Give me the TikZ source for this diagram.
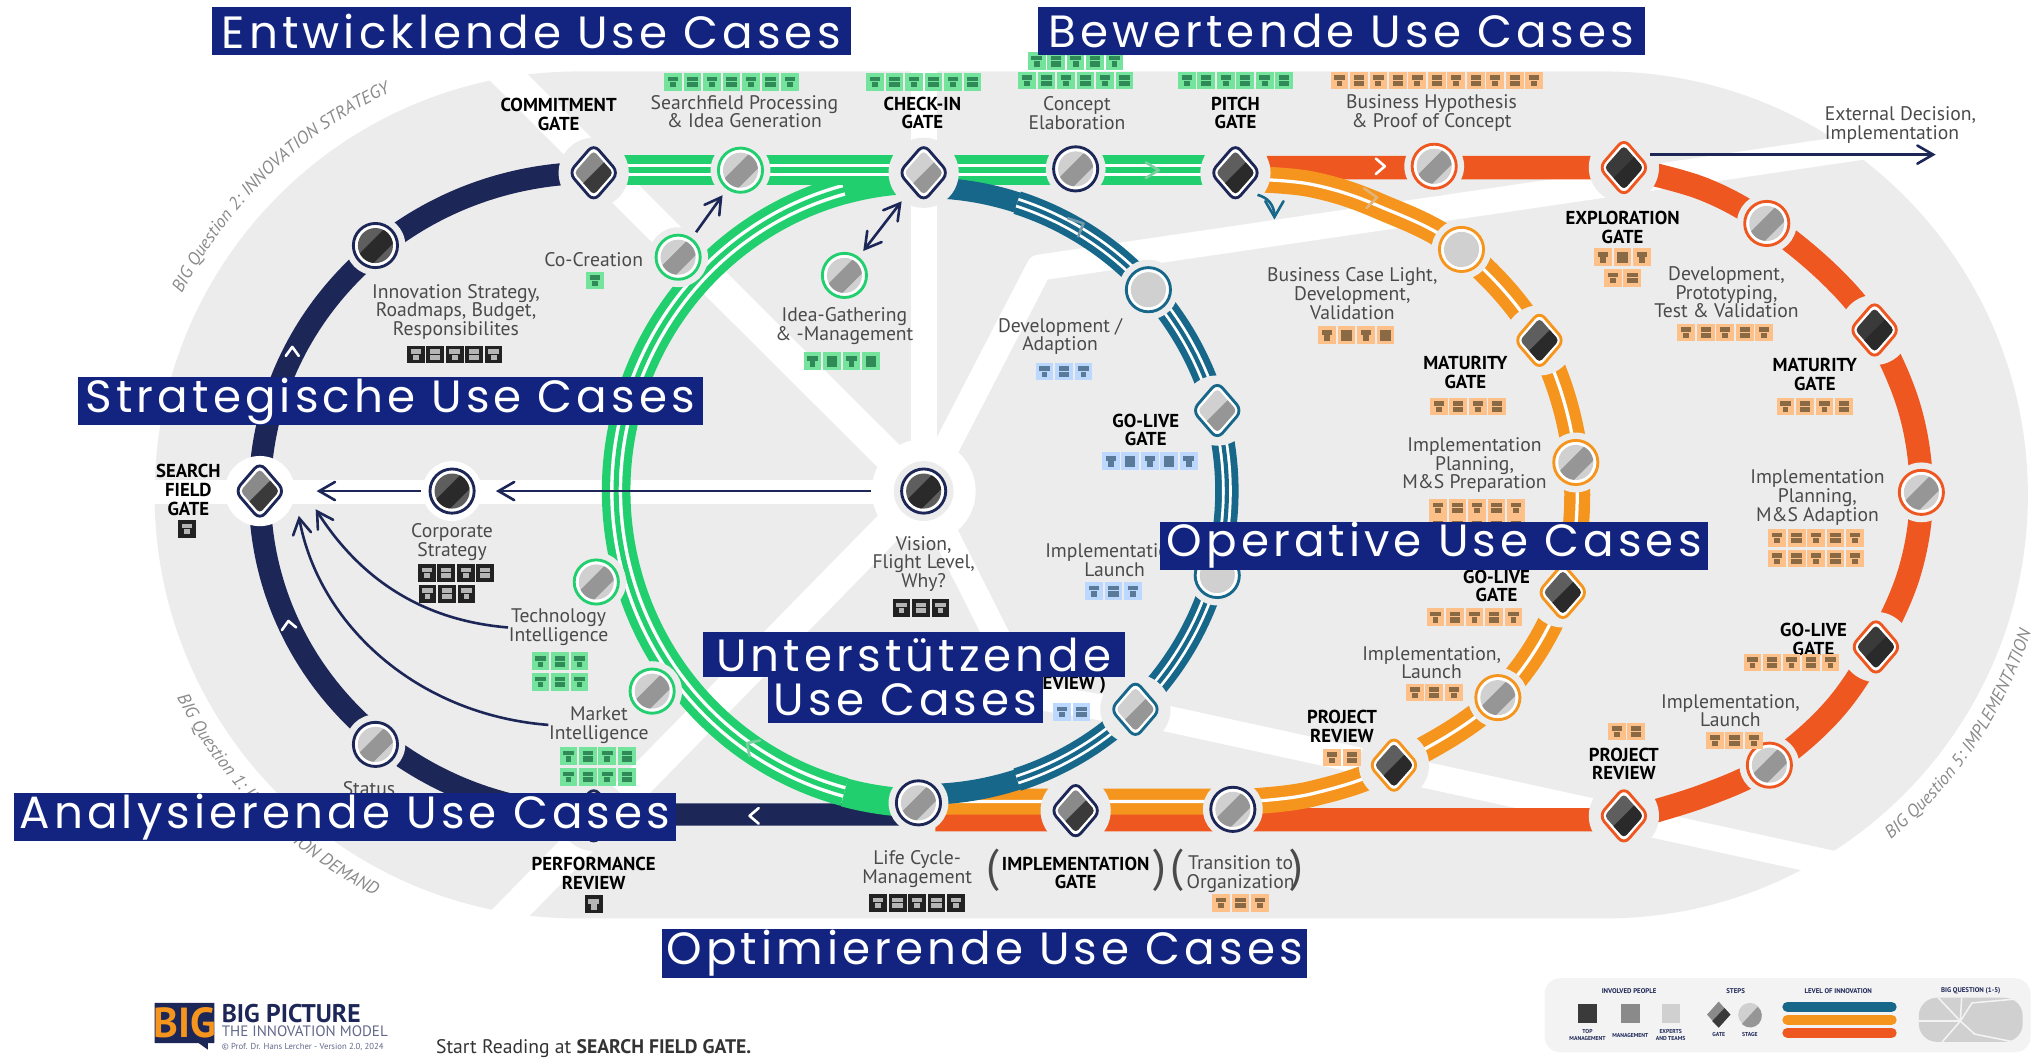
\documentclass[tikz,border=0pt]{standalone}
\usepackage{fontspec}
\usepackage{xcolor}
\usepackage{tikz}
\usetikzlibrary{arrows, decorations.text}

\setmainfont{PT Sans}
\newfontfamily\bannerfont[LetterSpace=9]{Poppins}

\definecolor{flaeche}{HTML}{ECECEC}
\definecolor{navyline}{HTML}{1D2757}
\definecolor{greenline}{HTML}{22CF6E}
\definecolor{tealline}{HTML}{17678A}
\definecolor{orangeline}{HTML}{F5951D}
\definecolor{redline}{HTML}{EE5720}
\definecolor{bannerblue}{HTML}{12247F}
\definecolor{labelgray}{HTML}{4A4A4A}
\definecolor{toneA}{HTML}{D0D0D0}
\definecolor{toneB}{HTML}{969696}
\definecolor{toneC}{HTML}{8A8A8A}
\definecolor{toneD}{HTML}{3A3A3A}
\definecolor{toneE}{HTML}{5E5E5E}
\definecolor{toneF}{HTML}{2A2A2A}
\definecolor{tilegreen}{HTML}{74E39C}
\definecolor{inkgreen}{HTML}{2F8A58}
\definecolor{tileorange}{HTML}{FDC089}
\definecolor{inkorange}{HTML}{8A6A45}
\definecolor{tileblue}{HTML}{BCD8FF}
\definecolor{inkblue}{HTML}{5A7A9A}
\definecolor{tileblack}{HTML}{222222}
\definecolor{inkblack}{HTML}{B5B5B5}

\tikzset{
	stagehalo/.style={circle, fill=flaeche, minimum size=0.46cm, inner sep=0pt},
	gatehalo/.style={circle, fill=flaeche, minimum size=0.54cm, inner sep=0pt},
	steplabel/.style={text=labelgray, align=center, inner sep=0pt,
		font=\fontsize{4.3}{4.1}\selectfont},
	gatelabel/.style={text=black, align=center, inner sep=0pt,
		font=\fontsize{4.1}{4.1}\selectfont\bfseries},
	flowline/.style={color=navyline, line width=0.02cm, >=angle 60},
	chevron/.style={color=white, line width=0.02cm, line cap=round, line join=round},
	banner/.style={fill=bannerblue, text=white, inner sep=0pt,
		minimum height=0.37cm, font=\bannerfont\fontsize{9.9}{10}\selectfont},
	legendtext/.style={text=navyline, align=center, inner sep=0pt,
		font=\fontsize{1.5}{1.7}\selectfont\bfseries},
	legendsmall/.style={text=navyline, align=center, inner sep=0pt,
		font=\fontsize{1.25}{1.5}\selectfont\bfseries}
}

% Stage: Name, Position, Ring, Flaeche, Streifen
\newcommand{\stagenode}[5]{
	\node[stagehalo] (#1) at #2 {};
	\begin{scope}[shift={#2}]
		\draw[color=#3, line width=0.022cm, fill=white] (0,0) circle (17);
		\begin{scope}
			\clip (0,0) circle (13.5);
			\fill[#4] (-15,-15) rectangle (15,15);
			\fill[#5] (-15,9) -- (9,-15) -- (18,-6) -- (-6,18) -- cycle;
		\end{scope}
	\end{scope}
}
% Gate: Name, Position, Ring, Flaeche, Streifen
\newcommand{\gatenode}[5]{
	\node[gatehalo] (#1) at #2 {};
	\begin{scope}[shift={#2}]
		\draw[color=#3, line width=0.022cm, fill=white, rounded corners=0.06cm]
			(0,-22) -- (19,0) -- (0,22) -- (-19,0) -- cycle;
		\begin{scope}
			\clip[rounded corners=0.03cm] (0,-17) -- (15,0) -- (0,17) -- (-15,0) -- cycle;
			\fill[#4] (-17,-18) rectangle (17,18);
			\fill[#5] (-20,20) -- (20,-20) -- (20,20) -- cycle;
		\end{scope}
	\end{scope}
}
% Gleis mit zwei weissen Streifen
\newcommand{\gleis}[3]{
	\draw[color=#1, line width=#2 cm] #3;
	\draw[color=white, line width=0.42*#2 cm] #3;
	\draw[color=#1, line width=0.18*#2 cm] #3;
}
% Gleis mit einem Streifen
\newcommand{\gleisb}[3]{
	\draw[color=#1, line width=#2 cm] #3;
	\draw[color=white, line width=0.025cm] #3;
}
% Kachelreihe
\newcommand{\iconrow}[4]{
	\foreach \k in {1,...,#3} {
		\pgfmathsetmacro{\tx}{#1+(\k-(#3+1)/2)*15}
		\pgfmathsetmacro{\gw}{ifthenelse(mod(\k,2)==0,4,2.2)}
		\fill[tile#4] (\tx-6.8,#2-6.8) rectangle (\tx+6.8,#2+6.8);
		\fill[ink#4] (\tx-4,#2-4) rectangle (\tx+4,#2-0.5);
		\fill[ink#4] (\tx-\gw,#2+0.2) rectangle (\tx+\gw,#2+4.2);
	}
}

\begin{document}
\begin{tikzpicture}[x=0.01cm, y=-0.01cm]
	\useasboundingbox (0,0) rectangle (1568,815);

	% Flaeche
	\fill[flaeche] (445,55) -- (1235,55) arc (-90:90:326) -- (445,707) arc (90:270:326) -- cycle;
	% Weisse Schneisen
	\draw[color=white, line width=0.2cm] (711,378) -- (711,40);
	\draw[color=white, line width=0.24cm] (711,378) -- (380,48);
	\draw[color=white, line width=0.185cm] (711,378.5) -- (110,378.5);
	\draw[color=white, line width=0.24cm] (711,378) -- (384,712);
	\draw[color=white, line width=0.2cm, line join=round] (711,378) -- (790,535) -- (893,552) -- (1425,668);
	\draw[color=white, line width=0.2cm, line join=round] (711,378) -- (800,206) -- (1440,112);

	% Fragen am Rand
	\path[decorate, decoration={text along path, text align=center,
		text={|\fontsize{3.9}{4}\selectfont\itshape\color{toneC}|BIG Question 2: INNOVATION STRATEGY}}]
		([shift={(445,381)}]206:342) arc (206:246:342);
	\path[decorate, decoration={text along path, text align=center,
		text={|\fontsize{3.9}{4}\selectfont\itshape\color{toneC}|BIG Question 1: INNOVATION DEMAND}}]
		([shift={(445,381)}]154:346) arc (154:116:346);
	\path[decorate, decoration={text along path, text align=center,
		text={|\fontsize{3.9}{4}\selectfont\itshape\color{toneC}|BIG Question 5: IMPLEMENTATION}}]
		([shift={(1235,381)}]51:345) arc (51:17:345);

	% Navy
	\draw[color=navyline, line width=0.17cm] (457,133) arc (270:90:257 and 247) -- (700,627);
	% Rot
	\draw[color=redline, line width=0.18cm] (975,129) -- (1250,129)
		plot[smooth, tension=0.6] coordinates {(1250,129) (1310,145) (1360,172) (1410,213) (1443,254)
		(1470,315) (1479,379) (1470,440) (1444,498) (1410,548) (1362,589) (1310,613) (1250,631)}
		-- (720,631);
	% Orange
	\gleisb{orangeline}{0.2}{plot[smooth, tension=0.6] coordinates {(965,138) (1010,142) (1060,158)
		(1125,192) (1185,262) (1213,356) (1203,456) (1153,537) (1073,589) (1010,611) (960,617)} -- (720,617)}
	% Gruen
	\gleis{greenline}{0.22}{(650,146) arc (255:105:237 and 240)}
	\draw[color=greenline, line width=0.22cm] (711,138) arc (270:255:237 and 240);
	\draw[color=greenline, line width=0.22cm] (650,610) arc (105:90:237 and 240);
	\gleis{greenline}{0.23}{(475,131) -- (935,131)}
	% Petrol
	\draw[color=tealline, line width=0.16cm] (711,144.5) arc (-90:-72:233.5);
	\draw[color=tealline, line width=0.16cm] (711,611.5) arc (90:72:233.5);
	\gleis{tealline}{0.18}{(783,156) arc (-72:72:233.5)}

	% Pfeilchen auf den Gleisen
	\draw[chevron, color=white] (220,274) -- (225,267) -- (230,274);
	\draw[chevron, color=white] (217,485) -- (222,478) -- (228,483);
	\draw[chevron, color=white] (584,622) -- (577,628) -- (584,634);
	\draw[chevron, color=white] (1059,122) -- (1066,128) -- (1059,134);
	\draw[chevron, color=toneA!50!greenline] (882,125) -- (892,131) -- (882,137);
	\draw[chevron, color=toneA!50!greenline] (585,570) -- (575,572) -- (577,582);
	\draw[chevron, color=toneA!50!orangeline] (1050,145) -- (1060,152) -- (1052,160);
	\draw[chevron, color=toneA!50!tealline] (822,168) -- (834,172) -- (830,182);

	% Nabe
	\node[circle, fill=white, minimum size=0.8cm, inner sep=0pt] (hubDisc) at (711,378) {};
	\stagenode{stageHub}{(711,378)}{navyline}{toneE}{toneF}

	% Stages
	\stagenode{stageStrategy}{(289,189)}{navyline}{toneE}{toneF}
	\stagenode{stageStatus}{(289,573)}{navyline}{toneA}{toneB}
	\begin{scope}[stagehalo/.append style={fill=white}]
		\stagenode{stageCorporate}{(348,378)}{navyline}{toneE}{toneF}
	\end{scope}
	\stagenode{stageSearch}{(570,131)}{greenline}{toneA}{toneB}
	\stagenode{stageConcept}{(828,130)}{navyline}{toneA}{toneB}
	\stagenode{stageCoCreation}{(522,198)}{greenline}{toneA}{toneB}
	\stagenode{stageIdea}{(650,212)}{greenline}{toneA}{toneB}
	\stagenode{stageTech}{(459,448)}{greenline}{toneA}{toneB}
	\stagenode{stageMarket}{(502,532)}{greenline}{toneA}{toneB}
	\stagenode{stageLifeCycle}{(707,618)}{navyline}{toneA}{toneB}
	\stagenode{stageAdaption}{(884,223)}{tealline}{toneA}{toneA}
	\stagenode{stageLaunchT}{(937,443)}{tealline}{toneA}{toneA}
	\stagenode{stageTransition}{(949,623)}{navyline}{toneA}{toneB}
	\stagenode{stageHypothesis}{(1104,128)}{redline}{toneA}{toneB}
	\stagenode{stageCaseLight}{(1125,192)}{orangeline}{toneA}{toneA}
	\stagenode{stagePlanO}{(1213,356)}{orangeline}{toneA}{toneB}
	\stagenode{stageLaunchO}{(1153,537)}{orangeline}{toneA}{toneB}
	\stagenode{stageDevR}{(1360,172)}{redline}{toneA}{toneB}
	\stagenode{stagePlanR}{(1479,379)}{redline}{toneA}{toneB}
	\stagenode{stageLaunchR}{(1362,589)}{redline}{toneA}{toneB}

	% Gates
	\gatenode{gateCommit}{(457,133)}{navyline}{toneC}{toneD}
	\gatenode{gateCheckIn}{(711,133)}{navyline}{toneA}{toneB}
	\gatenode{gatePitch}{(951,133)}{navyline}{toneE}{toneF}
	\begin{scope}[gatehalo/.append style={fill=white}]
		\gatenode{gateSearch}{(200,378)}{navyline}{toneC}{toneD}
	\end{scope}
	\gatenode{gatePerformance}{(457,628)}{navyline}{toneC}{toneD}
	\gatenode{gateImplement}{(828,624)}{navyline}{toneC}{toneD}
	\gatenode{gateGoLiveT}{(937,316)}{tealline}{toneA}{toneB}
	\gatenode{gateReviewT}{(874,546)}{tealline}{toneA}{toneB}
	\gatenode{gateMaturityO}{(1185,262)}{orangeline}{toneE}{toneF}
	\gatenode{gateGoLiveO}{(1203,456)}{orangeline}{toneE}{toneF}
	\gatenode{gateReviewO}{(1073,589)}{orangeline}{toneE}{toneF}
	\gatenode{gateExplore}{(1250,129)}{redline}{toneD}{toneF}
	\gatenode{gateMaturityR}{(1443,254)}{redline}{toneD}{toneF}
	\gatenode{gateGoLiveR}{(1444,498)}{redline}{toneD}{toneF}
	\gatenode{gateReviewR}{(1250,628)}{redline}{toneE}{toneF}

	% Beschriftung Gates
	\node[gatelabel] (lblCommit) at (430,88) {COMMITMENT\\GATE};
	\node[gatelabel] (lblCheckIn) at (710,87) {CHECK-IN\\GATE};
	\node[gatelabel] (lblPitch) at (951,87) {PITCH\\GATE};
	\node[gatelabel] (lblExplore) at (1249,175) {EXPLORATION\\GATE};
	\node[gatelabel] (lblMaturityO) at (1128,287) {MATURITY\\GATE};
	\node[gatelabel] (lblMaturityR) at (1397,288) {MATURITY\\GATE};
	\node[gatelabel] (lblGoLiveT) at (882,331) {GO-LIVE\\GATE};
	\node[gatelabel] (lblGoLiveO) at (1152,451) {GO-LIVE\\GATE};
	\node[gatelabel] (lblGoLiveR) at (1396,492) {GO-LIVE\\GATE};
	\node[gatelabel] (lblReviewO) at (1033,559) {PROJECT\\REVIEW};
	\node[gatelabel] (lblReviewR) at (1250,588) {PROJECT\\REVIEW};
	\node[gatelabel, anchor=east] (lblReviewT) at (852,527) {REVIEW )};
	\node[gatelabel] (lblSearch) at (145,377) {SEARCH\\FIELD\\GATE};
	\node[gatelabel] (lblPerformance) at (457,672) {PERFORMANCE\\REVIEW};
	\node[gatelabel] (lblImplement) at (828,672) {IMPLEMENTATION\\GATE};
	\node[steplabel, font=\fontsize{10}{10}\selectfont] (lblParenA) at (764,670) {(};
	\node[steplabel, font=\fontsize{10}{10}\selectfont] (lblParenB) at (893,670) {)};
	\node[steplabel, font=\fontsize{10}{10}\selectfont] (lblParenC) at (906,670) {(};
	\node[steplabel, font=\fontsize{10}{10}\selectfont] (lblParenD) at (998,670) {)};

	% Beschriftung Stages
	\node[steplabel] (lblSearchfield) at (573,86) {Searchfield Processing\\\& Idea Generation};
	\node[steplabel] (lblConcept) at (829,87) {Concept\\Elaboration};
	\node[steplabel] (lblHypothesis) at (1102,87) {Business Hypothesis\\\& Proof of Concept};
	\node[steplabel, align=left, anchor=west] (lblExternal) at (1404,96) {External Decision,\\Implementation};
	\node[steplabel] (lblDevR) at (1329,225) {Development,\\Prototyping,\\Test \& Validation};
	\node[steplabel] (lblCaseLight) at (1041,226) {Business Case Light,\\Development,\\Validation};
	\node[steplabel] (lblPlanO) at (1135,358) {Implementation\\Planning,\\M\&S Preparation};
	\node[steplabel] (lblPlanR) at (1399,383) {Implementation\\Planning,\\M\&S Adaption};
	\node[steplabel] (lblLaunchO) at (1102,510) {Implementation,\\Launch};
	\node[steplabel] (lblLaunchR) at (1332,547) {Implementation,\\Launch};
	\node[steplabel] (lblAdaption) at (816,259) {Development /\\Adaption};
	\node[steplabel] (lblLaunchT) at (858,431) {Implementation,\\Launch};
	\node[steplabel] (lblCoCreation) at (457,200) {Co-Creation};
	\node[steplabel] (lblStrategy) at (351,240) {Innovation Strategy,\\Roadmaps, Budget,\\Responsibilites};
	\node[steplabel] (lblIdea) at (650,251) {Idea-Gathering\\\& -Management};
	\node[steplabel] (lblCorporate) at (348,417) {Corporate\\Strategy};
	\node[steplabel] (lblTech) at (430,483) {Technology\\Intelligence};
	\node[steplabel] (lblMarket) at (461,558) {Market\\Intelligence};
	\node[steplabel] (lblStatus) at (284,607) {Status};
	\node[steplabel] (lblLifeCycle) at (706,669) {Life Cycle-\\Management};
	\node[steplabel] (lblTransition) at (955,673) {Transition to\\Organization};
	\node[steplabel] (lblVision) at (711,434) {Vision,\\Flight Level,\\Why?};

	% Kacheln
	\foreach \cx/\cy/\cn in {563/63/7, 711/63/6, 828/47/5, 828/62/6, 951/62/6, 458/216/1,
		648/278/4, 431/509/3, 431/525/3, 460/582/4, 460/598/4}
		{\iconrow{\cx}{\cy}{\cn}{green}}
	\foreach \cx/\cy/\cn in {1106/62/11, 1249/198/3, 1249/214/2, 1328/256/5, 1397/313/4,
		1398/414/5, 1398/430/5, 1044/258/4, 1130/313/4, 1137/391/5, 1137/405/5, 1135/475/5,
		1104/533/3, 1033/583/2, 1252/563/2, 1335/570/3, 1379/510/5, 955/695/3}
		{\iconrow{\cx}{\cy}{\cn}{orange}}
	\foreach \cx/\cy/\cn in {819/286/3, 885/355/5, 857/455/3, 825/548/2}
		{\iconrow{\cx}{\cy}{\cn}{blue}}
	\foreach \cx/\cy/\cn in {350/273/5, 351/441/4, 344/457/3, 709/468/3, 706/695/5, 457/696/1, 144/407/1}
		{\iconrow{\cx}{\cy}{\cn}{black}}

	% Verbindungen
	\draw[flowline, ->, shorten >=0.1cm] (hubDisc) -- (stageCorporate);
	\draw[flowline, ->, shorten >=0.16cm] (stageCorporate) -- (gateSearch);
	\draw[flowline, ->] (stageCoCreation) -- (stageSearch);
	\draw[flowline, <->] (stageIdea) -- (gateCheckIn);
	\coordinate (extStart) at (1270,119);
	\coordinate (extEnd) at (1490,119);
	\draw[flowline, ->] (extStart) -- (extEnd);
	\coordinate (techEnd) at (243,392);
	\coordinate (marketEnd) at (230,397);
	\draw[flowline, ->] (lblTech.west) .. controls (330,478) and (280,450) .. (techEnd);
	\draw[flowline, ->] (lblMarket.west) .. controls (320,550) and (245,480) .. (marketEnd);
	\coordinate (tealStart) at (968,150);
	\coordinate (tealEnd) at (981,169);
	\draw[flowline, color=tealline, ->] (tealStart) .. controls (976,152) and (981,158) .. (tealEnd);

	% Logo
	\fill[navyline] (119,772) -- (165,772) -- (165,803) -- (160,803) -- (160,808) -- (153,803) -- (119,803) -- cycle;
	\node[inner sep=0pt, text=orangeline, font=\fontsize{9.2}{9}\selectfont\bfseries] (logoBig) at (142,787) {BIG};
	\node[anchor=west, inner sep=0pt, text=navyline, font=\fontsize{5.6}{6}\selectfont\bfseries] (logoName) at (170,780) {BIG PICTURE};
	\node[anchor=west, inner sep=0pt, text=navyline!70, font=\fontsize{3.3}{4}\selectfont] (logoModel) at (170,794) {THE INNOVATION MODEL};
	\node[anchor=west, inner sep=0pt, text=navyline!70, font=\fontsize{1.9}{2}\selectfont] (logoVersion) at (170,806) {© Prof. Dr. Hans Lercher - Version 2.0, 2024};
	\node[anchor=west, inner sep=0pt, text=black!80, font=\fontsize{4.3}{5}\selectfont] (startReading) at (335,807) {Start Reading at \textbf{SEARCH FIELD GATE.}};

	% Legende
	\fill[color=toneA!25!white, rounded corners=0.12cm] (1189,753) rectangle (1563,810);
	\node[legendtext] (legPeople) at (1254,763) {INVOLVED PEOPLE};
	\node[legendtext] (legSteps) at (1336,763) {STEPS};
	\node[legendtext] (legLevel) at (1415,763) {LEVEL OF INNOVATION};
	\node[legendtext] (legQuestion) at (1517,763) {BIG QUESTION (1-5)};
	\fill[toneD] (1214.5,772.5) rectangle (1229.5,787.5);
	\fill[toneC] (1247.5,772.5) rectangle (1262.5,787.5);
	\fill[toneA] (1279,772.5) rectangle (1293,787.5);
	\node[legendsmall] (legTop) at (1222,797) {TOP\\MANAGEMENT};
	\node[legendsmall] (legMgmt) at (1255,797) {MANAGEMENT};
	\node[legendsmall] (legExperts) at (1286,797) {EXPERTS\\AND TEAMS};
	\fill[toneC] (1323,771) -- (1332,781) -- (1323,791) -- (1314,781) -- cycle;
	\fill[toneD] (1318,786) -- (1327.5,776) -- (1332,781) -- (1323,791) -- cycle;
	\fill[toneA] (1347,781) circle (9);
	\fill[toneB] (1341,788) -- (1353,775) arc (-50:130:9) -- cycle;
	\node[legendsmall] (legGate) at (1323,796) {GATE};
	\node[legendsmall] (legStage) at (1347,796) {STAGE};
	\draw[color=tealline, line width=0.08cm, line cap=round] (1376,775) -- (1456,775);
	\draw[color=orangeline, line width=0.08cm, line cap=round] (1376,785) -- (1456,785);
	\draw[color=redline, line width=0.08cm, line cap=round] (1376,795) -- (1456,795);
	\fill[color=toneA, rounded corners=0.14cm] (1477,768) rectangle (1557,802);
	\draw[color=toneA!25!white, line width=0.012cm] (1509,786) -- (1492,768);
	\draw[color=toneA!25!white, line width=0.012cm] (1509,786) -- (1510,768);
	\draw[color=toneA!25!white, line width=0.012cm] (1509,786) -- (1477,786);
	\draw[color=toneA!25!white, line width=0.012cm] (1509,786) -- (1495,802);
	\draw[color=toneA!25!white, line width=0.012cm] (1509,786) -- (1520,796) -- (1550,802);
	\draw[color=toneA!25!white, line width=0.012cm] (1509,786) -- (1518,772) -- (1552,769);

	% Ueberschriften
	\node[banner, minimum width=4.92cm] (bannerEntwicklung) at (409,24) {Entwicklende Use Cases};
	\node[banner, minimum width=4.67cm] (bannerBewertung) at (1032.5,24) {Bewertende Use Cases};
	\node[banner, minimum width=4.81cm] (bannerStrategie) at (300.5,309) {Strategische Use Cases};
	\node[banner, minimum width=4.22cm] (bannerOperativ) at (1104,420) {Operative Use Cases};
	\node[banner, minimum width=3.25cm, minimum height=0.35cm] (bannerSupportA) at (703.5,504) {Unterstützende};
	\node[banner, minimum width=2.12cm, minimum height=0.35cm] (bannerSupportB) at (697,539) {Use Cases};
	\node[banner, minimum width=5.09cm] (bannerAnalyse) at (265.5,629) {Analysierende Use Cases};
	\node[banner, minimum width=4.96cm] (bannerOptimierung) at (758,734) {Optimierende Use Cases};
\end{tikzpicture}
\end{document}
